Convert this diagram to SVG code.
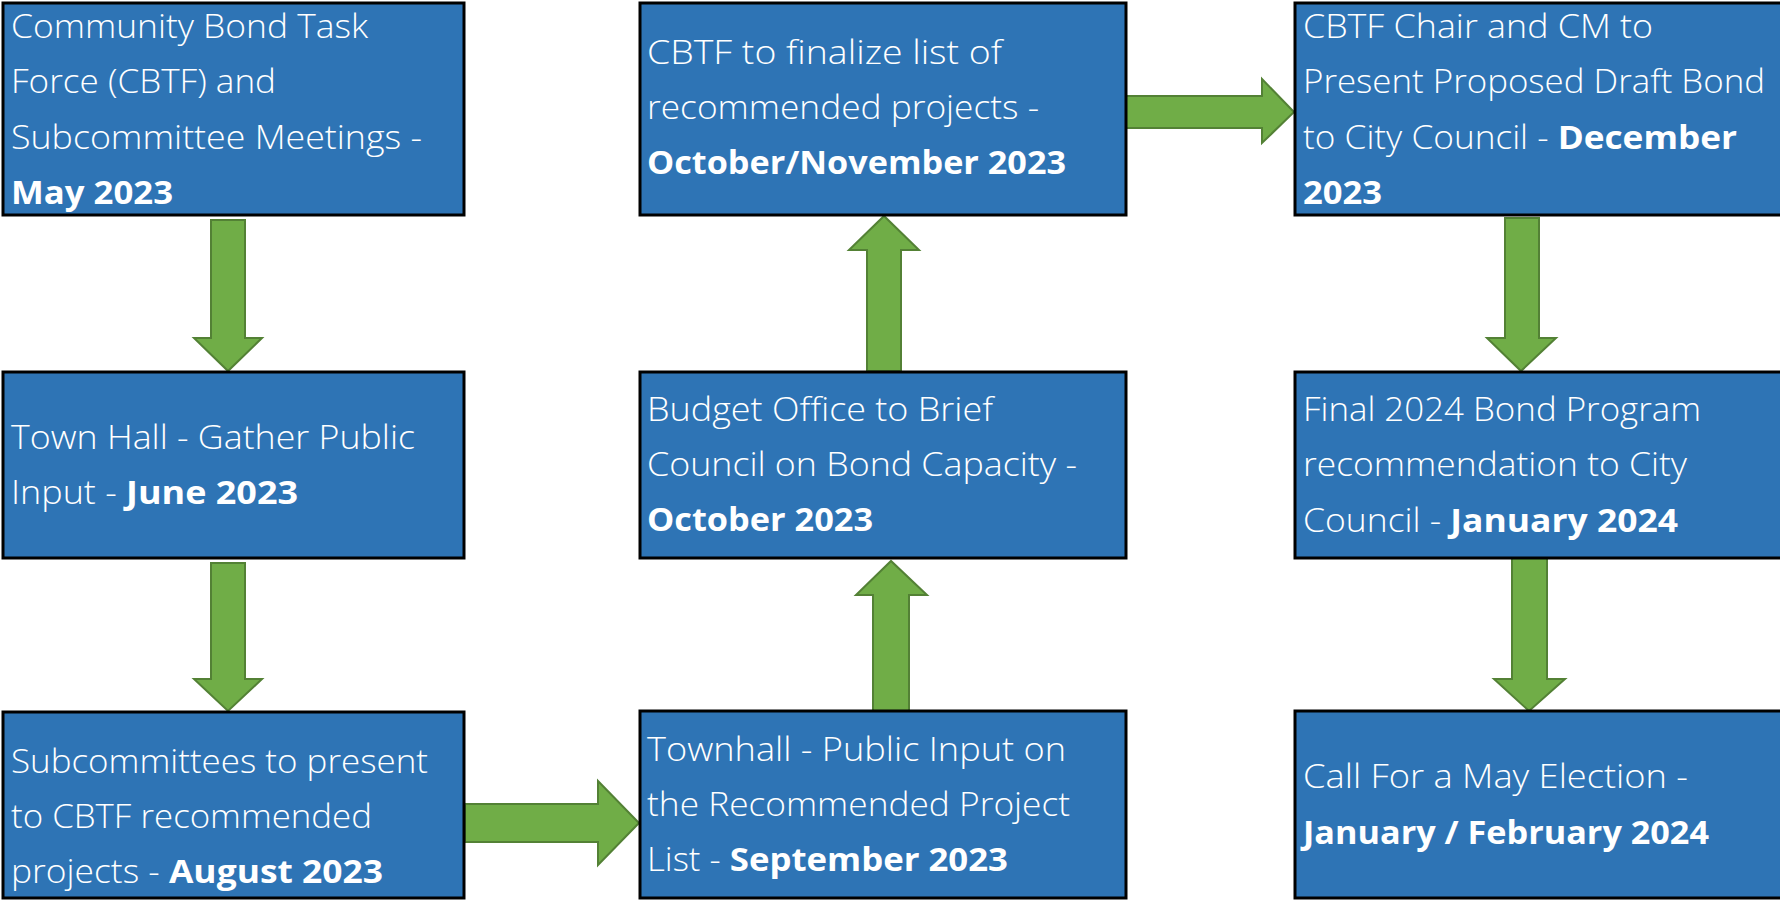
<svg xmlns="http://www.w3.org/2000/svg" width="1780" height="901" viewBox="0 0 1780 901">
<style>
.box{fill:#2E74B5;stroke:#000;stroke-width:3}
.arr{fill:#70AD47;stroke:#538135;stroke-width:2;stroke-linejoin:miter}
text{font-family:"Open Sans","Noto Sans","Liberation Sans",sans-serif;font-size:33px;fill:#fff;font-weight:300}
.b{font-weight:700}
</style>
<rect width="1780" height="901" fill="#fff"/>
<g id="connectors">
<polygon class="arr" points="211,220 245,220 245,338 262,338 228,371 194,338 211,338"/>
<polygon class="arr" points="211,563 245,563 245,679 262,679 228,711 194,679 211,679"/>
<polygon class="arr" points="465,804 598,804 598,781 639,823 598,865 598,842 465,842"/>
<polygon class="arr" points="873,712 873,595 856,595 891,561 927,595 909,595 909,712"/>
<polygon class="arr" points="867,371 867,250 849,250 884,216 919,250 901,250 901,371"/>
<polygon class="arr" points="1125,96 1262,96 1262,79 1294,112 1262,143 1262,128 1125,128"/>
<polygon class="arr" points="1505,218 1539,218 1539,338 1556,338 1521,371 1487,338 1505,338"/>
<polygon class="arr" points="1512,558 1547,558 1547,679 1565,679 1529,711 1494,679 1512,679"/>
</g>
<g id="n1">
<rect class="box" x="3" y="3" width="461" height="212"/>
<text x="11" y="38" textLength="357" lengthAdjust="spacingAndGlyphs">Community Bond Task</text>
<text x="11" y="93" textLength="265" lengthAdjust="spacingAndGlyphs">Force (CBTF) and</text>
<text x="11" y="149" textLength="411" lengthAdjust="spacingAndGlyphs">Subcommittee Meetings -</text>
<text x="11" y="204" class="b" textLength="162" lengthAdjust="spacingAndGlyphs">May 2023</text>
</g>
<g id="n2">
<rect class="box" x="3" y="372" width="461" height="186"/>
<text x="11" y="449" textLength="404" lengthAdjust="spacingAndGlyphs">Town Hall - Gather Public</text>
<text x="11" y="504" textLength="287" lengthAdjust="spacingAndGlyphs">Input - <tspan class="b">June 2023</tspan></text>
</g>
<g id="n3">
<rect class="box" x="3" y="712" width="461" height="186"/>
<text x="11" y="773" textLength="417" lengthAdjust="spacingAndGlyphs">Subcommittees to present</text>
<text x="11" y="828" textLength="361" lengthAdjust="spacingAndGlyphs">to CBTF recommended</text>
<text x="11" y="883" textLength="372" lengthAdjust="spacingAndGlyphs">projects - <tspan class="b">August 2023</tspan></text>
</g>
<g id="n4">
<rect class="box" x="640" y="711" width="486" height="187"/>
<text x="647" y="761" textLength="419" lengthAdjust="spacingAndGlyphs">Townhall - Public Input on</text>
<text x="647" y="816" textLength="423" lengthAdjust="spacingAndGlyphs">the Recommended Project</text>
<text x="647" y="871" textLength="361" lengthAdjust="spacingAndGlyphs">List - <tspan class="b">September 2023</tspan></text>
</g>
<g id="n5">
<rect class="box" x="640" y="372" width="486" height="186"/>
<text x="647" y="421" textLength="346" lengthAdjust="spacingAndGlyphs">Budget Office to Brief</text>
<text x="647" y="476" textLength="430" lengthAdjust="spacingAndGlyphs">Council on Bond Capacity -</text>
<text x="647" y="531" class="b" textLength="226" lengthAdjust="spacingAndGlyphs">October 2023</text>
</g>
<g id="n6">
<rect class="box" x="640" y="3" width="486" height="212"/>
<text x="647" y="64" textLength="355" lengthAdjust="spacingAndGlyphs">CBTF to finalize list of</text>
<text x="647" y="119" textLength="392" lengthAdjust="spacingAndGlyphs">recommended projects -</text>
<text x="647" y="174" class="b" textLength="419" lengthAdjust="spacingAndGlyphs">October/November 2023</text>
</g>
<g id="n7">
<rect class="box" x="1295" y="3" width="495" height="212"/>
<text x="1303" y="38" textLength="350" lengthAdjust="spacingAndGlyphs">CBTF Chair and CM to</text>
<text x="1303" y="93" textLength="462" lengthAdjust="spacingAndGlyphs">Present Proposed Draft Bond</text>
<text x="1303" y="149" textLength="434" lengthAdjust="spacingAndGlyphs">to City Council - <tspan class="b">December</tspan></text>
<text x="1303" y="204" class="b" textLength="79" lengthAdjust="spacingAndGlyphs">2023</text>
</g>
<g id="n8">
<rect class="box" x="1295" y="372" width="495" height="186"/>
<text x="1303" y="421" textLength="398" lengthAdjust="spacingAndGlyphs">Final 2024 Bond Program</text>
<text x="1303" y="476" textLength="384" lengthAdjust="spacingAndGlyphs">recommendation to City</text>
<text x="1303" y="532" textLength="375" lengthAdjust="spacingAndGlyphs">Council - <tspan class="b">January 2024</tspan></text>
</g>
<g id="n9">
<rect class="box" x="1295" y="711" width="495" height="187"/>
<text x="1303" y="788" textLength="385" lengthAdjust="spacingAndGlyphs">Call For a May Election -</text>
<text x="1303" y="844" class="b" textLength="406" lengthAdjust="spacingAndGlyphs">January / February 2024</text>
</g>
</svg>
